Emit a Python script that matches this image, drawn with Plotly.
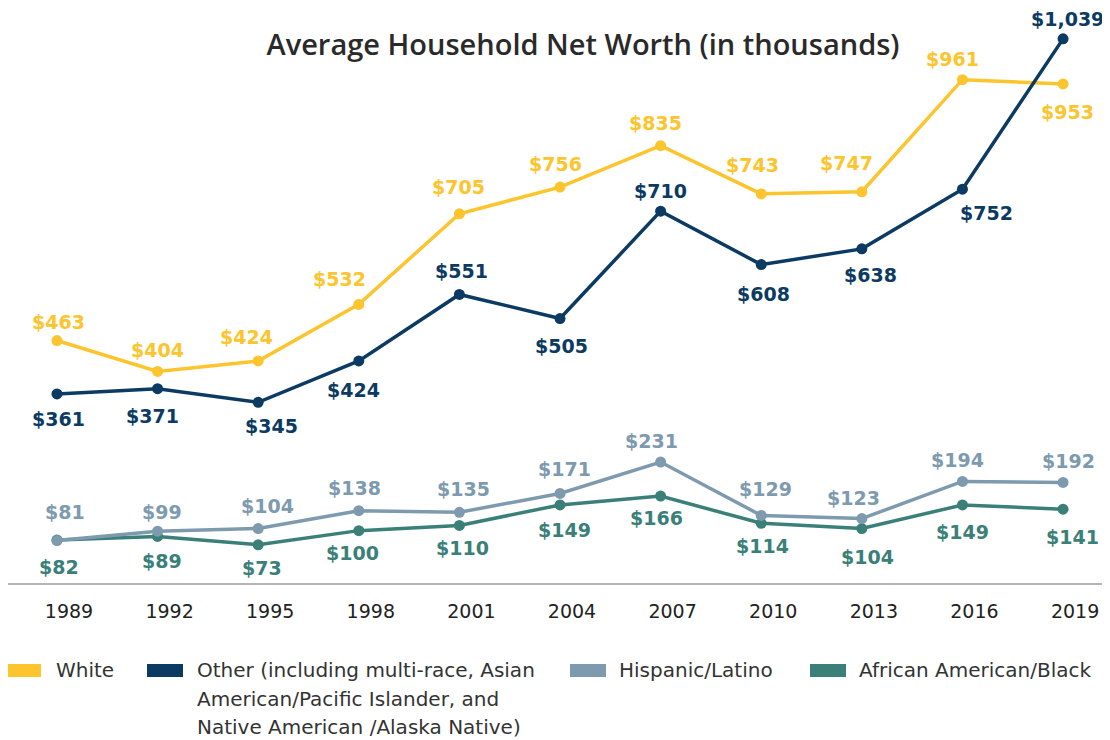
import plotly.graph_objects as go

years = [1989, 1992, 1995, 1998, 2001, 2004, 2007, 2010, 2013, 2016, 2019]
white = [463, 404, 424, 532, 705, 756, 835, 743, 747, 961, 953]
other = [361, 371, 345, 424, 551, 505, 710, 608, 638, 752, 1039]
hispanic = [81, 99, 104, 138, 135, 171, 231, 129, 123, 194, 192]
black = [82, 89, 73, 100, 110, 149, 166, 114, 104, 149, 141]

# label placement: +1 above, -1 below
white_pos = [1, 1, 1, 1, 1, 1, 1, 1, 1, 1, -1]
other_pos = [-1, -1, -1, -1, 1, -1, 1, -1, -1, -1, 1]
hispanic_pos = [1] * 11
black_pos = [-1] * 11

# label nudges in pixels (horizontal, and distance from the marker)
white_dx = [2, 0, -12, -19, -1, -5, -5, -9, -15, -10, 4]
other_dx = [2, -5, 13, -5, 2, 1, 0, 2, 9, 24, 4]
hisp_dx = [8, 4, 9, -4, 4, 4, -9, 4, -8, -5, 5]
black_dx = [2, 4, 4, -6, 3, 4, -4, 1, 6, 0, 9]

white_dy = [19, 21, 24, 25, 27, 23, 23, 29, 29, 21, 28]
other_dy = [25, 27, 24, 29, 23, 27, 20, 29, 26, 24, 20]
hisp_dy = [29, 19, 23, 23, 23, 24, 21, 26, 21, 21, 21]
black_dy = [27, 25, 23, 22, 23, 25, 22, 23, 28, 27, 28]

C_WHITE = "#FCC42D"
C_OTHER = "#0B3A63"
C_HISP = "#7D9AAF"
C_BLACK = "#3A8079"

LABEL_FONT = "DejaVu Sans"
TEXT_FONT = "DejaVu Sans"
TITLE_FONT = "Open Sans"

series = [
    ("African American/Black", black, black_pos, black_dx, black_dy, C_BLACK),
    ("Hispanic/Latino", hispanic, hispanic_pos, hisp_dx, hisp_dy, C_HISP),
    ("White", white, white_pos, white_dx, white_dy, C_WHITE),
    ("Other (including multi-race, Asian American/Pacific Islander, and Native American /Alaska Native)",
     other, other_pos, other_dx, other_dy, C_OTHER),
]

fig = go.Figure()
annotations = []
for name, vals, pos, dxs, dys, col in series:
    fig.add_trace(go.Scatter(
        x=years, y=vals, name=name, mode="lines+markers",
        line=dict(color=col, width=3.5),
        marker=dict(color=col, size=11),
        showlegend=False,
        hoverinfo="x+y",
    ))
    for x, v, p, dx, dy in zip(years, vals, pos, dxs, dys):
        annotations.append(dict(
            x=x, y=v, xref="x", yref="y",
            text=f"${v:,}", showarrow=False,
            font=dict(family=LABEL_FONT, size=19, color=col, weight="bold"),
            xshift=dx, yshift=dy if p > 0 else -dy,
            xanchor="center", yanchor="middle",
        ))

# page offset (browser body margin)
OFF = 8
W, H = 1110 - OFF, 740 - OFF
L, T, R = 0, 20 - OFF, 2
B = H - (583 - OFF)
PW = W - L - R
PH = H - T - B


def px(x):
    return (x - OFF - L) / PW


def py(y):
    return (H - B - (y - OFF)) / PH


# custom legend
legend_items = [
    (5, C_WHITE, ["White"], 55),
    (147, C_OTHER, ["Other (including multi-race, Asian",
                    "American/Pacific Islander, and",
                    "Native American /Alaska Native)"], 196),
    (570, C_HISP, ["Hispanic/Latino"], 618),
    (810, C_BLACK, ["African American/Black"], 858),
]
shapes = []
for x0, col, lines, tx in legend_items:
    shapes.append(dict(
        type="rect", xref="paper", yref="paper",
        x0=px(max(x0, OFF)), x1=px(x0 + 36),
        y0=py(677), y1=py(664),
        fillcolor=col, line=dict(width=0),
    ))
    for i, t in enumerate(lines):
        annotations.append(dict(
            x=px(tx), y=py(670 + 28.5 * i), xref="paper", yref="paper",
            text=t, showarrow=False, xanchor="left", yanchor="middle",
            font=dict(family=TEXT_FONT, size=20, color="#333333"),
            borderpad=0,
        ))

fig.update_layout(
    width=W, height=H,
    margin=dict(l=L, r=R, t=T, b=B),
    paper_bgcolor="white", plot_bgcolor="white",
    title=dict(
        text="Average Household Net Worth (in thousands)",
        x=(583 - OFF) / W, y=1 - (45 - OFF) / H, xref="container", yref="container",
        xanchor="center", yanchor="middle",
        font=dict(family=TITLE_FONT, size=29, color="#2a2a2a", weight=600),
    ),
    xaxis=dict(
        range=[1987.54, 2020.34], tickmode="array", tickvals=years,
        ticktext=[str(y) for y in years],
        showgrid=False, zeroline=False, showline=True,
        linecolor="#b5b5b5", linewidth=1.5, ticks="",
        ticklabelstandoff=10, ticklabelshift=12,
        tickfont=dict(family=TEXT_FONT, size=19, color="#222222"),
    ),
    yaxis=dict(range=[0, 1075], visible=False),
    annotations=annotations,
    shapes=shapes,
    showlegend=False,
)

fig.write_html("out.html")
